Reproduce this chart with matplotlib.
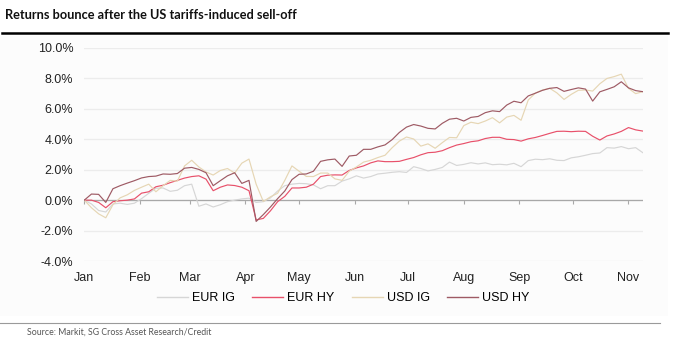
import numpy as np
import pandas as pd
import matplotlib
matplotlib.use("Agg")
import matplotlib.pyplot as plt
import matplotlib.dates as mdates
from matplotlib.ticker import FuncFormatter, NullFormatter

start = "2025-01-01"
n_points = 79

eur_ig = [0.0, -0.25, -0.68, -0.78, -0.25, -0.20, -0.28, -0.20, 0.10, 0.45,
          0.78, 0.80, 0.58, 0.65, 0.95, 1.05, -0.40, -0.25, -0.45, -0.30,
          -0.10, 0.0, 0.08, 0.13, -0.15, -0.10, 0.15, 0.60, 0.95, 1.05,
          1.10, 1.08, 1.00, 0.75, 0.95, 0.95, 1.25, 1.40, 1.60, 1.45,
          1.55, 1.72, 1.77, 1.83, 1.87, 1.82, 2.20, 2.08, 1.92, 2.02,
          2.15, 2.50, 2.28, 2.35, 2.46, 2.38, 2.45, 2.33, 2.36, 2.32,
          2.42, 2.20, 2.60, 2.69, 2.66, 2.72, 2.62, 2.60, 2.78, 2.85,
          2.95, 3.06, 3.10, 3.45, 3.42, 3.52, 3.38, 3.45, 3.12]

eur_hy = [0.0, 0.0, -0.15, -0.50, -0.10, -0.04, 0.0, 0.08, 0.46, 0.55,
          0.88, 0.98, 1.15, 1.30, 1.45, 1.55, 1.60, 1.38, 0.62, 0.85,
          1.00, 0.96, 0.85, 0.62, -1.30, -1.20, -0.70, -0.10, 0.25, 0.80,
          0.80, 0.85, 1.05, 1.55, 1.64, 1.66, 1.65, 1.95, 2.12, 2.25,
          2.45, 2.58, 2.53, 2.53, 2.55, 2.68, 2.80, 2.98, 3.12, 3.15,
          3.25, 3.45, 3.62, 3.72, 3.84, 3.90, 4.05, 4.13, 4.13, 4.00,
          3.98, 3.88, 4.03, 4.12, 4.25, 4.39, 4.52, 4.53, 4.50, 4.53,
          4.52, 4.20, 3.95, 4.22, 4.35, 4.52, 4.77, 4.62, 4.54]

usd_ig = [0.0, -0.50, -0.90, -1.16, -0.30, 0.15, 0.35, 0.64, 0.85, 1.05,
          0.55, 0.95, 1.30, 1.25, 2.25, 2.62, 2.18, 1.85, 1.65, 1.95,
          2.08, 1.78, 2.43, 2.70, 1.05, -0.09, 0.22, 0.45, 1.30, 2.25,
          1.90, 1.56, 1.55, 1.78, 1.78, 1.40, 1.30, 1.90, 2.18, 2.50,
          2.62, 2.80, 2.95, 3.45, 3.88, 4.15, 4.02, 3.55, 3.70, 3.41,
          3.78, 4.12, 4.10, 4.90, 5.12, 5.03, 5.20, 5.42, 5.08, 5.46,
          5.57, 5.25, 6.58, 7.04, 7.24, 7.35, 7.05, 6.62, 6.95, 7.22,
          7.24, 7.17, 7.65, 8.00, 8.12, 8.28, 7.35, 7.00, 7.13]

usd_hy = [0.0, 0.40, 0.38, -0.15, 0.75, 0.95, 1.12, 1.28, 1.46, 1.55,
          1.58, 1.72, 1.70, 1.75, 2.10, 2.15, 2.02, 1.80, 0.95, 1.28,
          1.60, 1.80, 1.10, 1.30, -1.40, -0.95, -0.45, 0.10, 0.60, 1.35,
          1.70, 1.72, 1.90, 2.55, 2.65, 2.70, 2.22, 2.90, 2.95, 3.34,
          3.34, 3.50, 3.63, 3.98, 4.45, 4.80, 4.97, 4.87, 4.72, 4.68,
          5.05, 5.32, 5.38, 5.20, 5.44, 5.50, 5.75, 5.87, 5.82, 6.25,
          6.50, 6.40, 6.85, 7.03, 7.22, 7.35, 7.40, 7.15, 7.27, 7.38,
          7.30, 6.51, 7.12, 7.28, 7.45, 7.78, 7.38, 7.20, 7.13]

series_names = ["EUR IG", "EUR HY", "USD IG", "USD HY"]
series_colors = ["#d6d6d6", "#e8506a", "#e6d6b4", "#9e5a64"]

dates = pd.date_range(start, periods=n_points, freq="4D")

base_font = ["Liberation Sans", "DejaVu Sans"]
narrow_font = ["Lato", "Liberation Sans", "DejaVu Sans"]
plt.rcParams["font.family"] = base_font

fig = plt.figure(figsize=(6.74, 3.5), dpi=100)
fig.patch.set_facecolor("white")

# faint panel behind the chart
fig.patches.append(plt.Rectangle((0.0, 1 - 316 / 350), 668 / 674, 280 / 350,
                                 transform=fig.transFigure, facecolor="#fcfcfc",
                                 edgecolor="none", zorder=-5))

ax = fig.add_axes([84.3 / 674, 1 - 261 / 350, (642.8 - 84.3) / 674, 213 / 350])
ax.set_facecolor("none")
ax.set_zorder(2)

for vals, name, col in zip([eur_ig, eur_hy, usd_ig, usd_hy], series_names, series_colors):
    ax.plot(dates, vals, color=col, lw=0.85, label=name, zorder=3)

ax.set_ylim(-4, 10)
ax.set_xlim(dates[0], dates[-1])
ax.set_yticks(np.arange(-4, 10.1, 2))
ax.yaxis.set_major_formatter(FuncFormatter(lambda v, p: f"{v:.1f}%"))
ax.grid(axis="y", color="#ececec", lw=0.9, zorder=0)
ax.axhline(0, color="#a8a8a8", lw=0.9, zorder=2)

for s in ax.spines.values():
    s.set_visible(False)

month_ticks = pd.date_range("2025-01-01", "2025-11-01", freq="MS")
ax.set_xticks(month_ticks)
ax.xaxis.set_major_formatter(mdates.DateFormatter("%b"))
ax.tick_params(axis="x", length=0, pad=8, labelsize=9, labelcolor="#222222")
ax.tick_params(axis="y", length=0, pad=8, labelsize=9, labelcolor="#222222")

# tick marks hanging off the zero line
sec = ax.secondary_xaxis(4 / 14)
sec.set_xticks(month_ticks)
sec.xaxis.set_major_formatter(NullFormatter())
sec.tick_params(axis="x", direction="out", length=3, width=0.8, color="#a8a8a8")
sec.spines["bottom"].set_visible(False)
sec.xaxis.set_ticks_position("bottom")

leg = fig.legend(loc="center", bbox_to_anchor=(343 / 674, 1 - 298 / 350), ncol=4,
                 frameon=False, fontsize=9, handlelength=2.5, handletextpad=0.3,
                 columnspacing=1.4)
for line in leg.get_lines():
    line.set_linewidth(1.0)

fig.text(5 / 674, 1 - 15 / 350, "Returns bounce after the US tariffs-induced sell-off",
         fontsize=9.2, fontweight="bold", family=narrow_font, va="center", ha="left",
         color="#111111")
fig.add_artist(plt.Line2D([2 / 674, 668 / 674], [1 - 33 / 350, 1 - 33 / 350],
                          color="black", lw=1.8, transform=fig.transFigure))
fig.add_artist(plt.Line2D([0, 660 / 674], [1 - 323 / 350, 1 - 323 / 350],
                          color="#9a9a9a", lw=0.8, transform=fig.transFigure))
fig.text(27 / 674, 1 - 332 / 350, "Source: Markit, SG Cross Asset Research/Credit",
         fontsize=6.3, family=narrow_font, color="#555555", va="center", ha="left")

fig.savefig("out.png", dpi=100, facecolor="white")
